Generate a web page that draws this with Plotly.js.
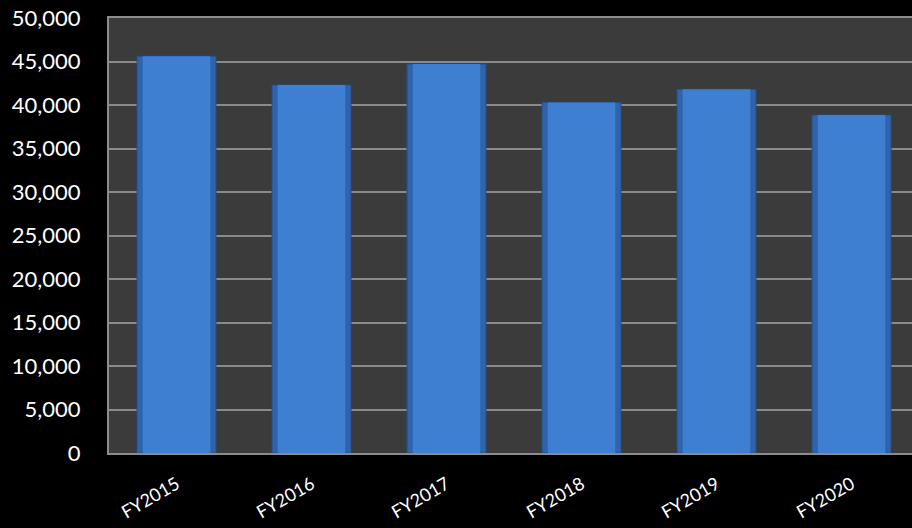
<!DOCTYPE html>
<html>
<head>
<meta charset="utf-8">
<script src="https://cdn.plot.ly/plotly-3.0.1.min.js"></script>
<style>html,body{margin:0;padding:0;background:#000;}#chart{width:912px;height:528px;}</style>
</head>
<body>
<div id="chart"></div>
<script>
const categories = ["FY2015", "FY2016", "FY2017", "FY2018", "FY2019", "FY2020"];
const values = [45600, 42300, 44700, 40300, 41800, 38850];
const yTickValues = [0, 5000, 10000, 15000, 20000, 25000, 30000, 35000, 40000, 45000, 50000];
const yTickLabels = ["0", "5,000", "10,000", "15,000", "20,000", "25,000", "30,000", "35,000", "40,000", "45,000", "50,000"];

const traces = [
  {
    type: "bar",
    x: categories,
    y: values,
    width: 0.585,
    marker: {color: "#2f64ac", line: {color: "#274f86", width: 1}},
    hoverinfo: "x+y"
  },
  {
    type: "bar",
    x: categories,
    y: values,
    width: 0.50,
    marker: {color: "#3f7fd2", line: {width: 0}},
    hoverinfo: "skip"
  }
];

const layout = {
  width: 912, height: 528,
  paper_bgcolor: "#000000",
  plot_bgcolor: "#3b3b3b",
  margin: {l: 109, r: 0, t: 18, b: 75},
  barmode: "overlay",
  showlegend: false,
  font: {family: "Lato, 'Open Sans', sans-serif", color: "#ffffff", size: 18},
  xaxis: {
    type: "category",
    range: [-0.5, 5.448],
    tickangle: -30,
    showgrid: false,
    showline: true, linecolor: "#8c8c8c", linewidth: 2,
    ticks: "", ticklabelstandoff: 12,
    tickfont: {size: 18, color: "#ffffff"},
    mirror: true
  },
  yaxis: {
    range: [0, 50000],
    tickvals: yTickValues,
    ticktext: yTickLabels,
    showgrid: true, gridcolor: "#8a8a8a", gridwidth: 2,
    showline: true, linecolor: "#8c8c8c", linewidth: 2,
    zeroline: false,
    ticks: "", ticklabelstandoff: 22,
    tickfont: {size: 22, color: "#ffffff"},
    mirror: true
  }
};

Plotly.newPlot("chart", traces, layout, {displayModeBar: false, staticPlot: true});
</script>
</body>
</html>
